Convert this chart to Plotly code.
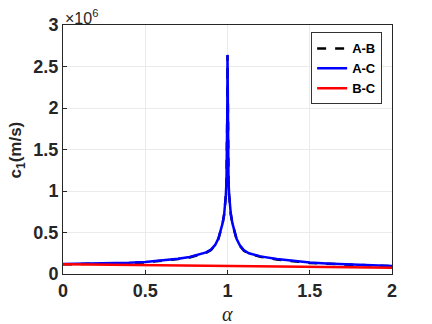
import plotly.graph_objects as go

# alpha grid for the A-B / A-C curves (dense near the resonance at alpha = 1)
alpha = [0, 0.1, 0.2, 0.3, 0.4, 0.5, 0.61, 0.7, 0.77, 0.82, 0.87, 0.9, 0.925,
         0.945, 0.959, 0.97, 0.98, 0.985, 0.99, 0.994, 0.996, 0.998, 0.999, 1.0,
         1.001, 1.002, 1.004, 1.006, 1.01, 1.015, 1.02, 1.03, 1.041, 1.055,
         1.075, 1.1, 1.13, 1.2, 1.3, 1.4, 1.5, 1.6, 1.7, 1.8, 1.9, 2.0]

# values in units of 1e6 m/s
c_ac = [0.120, 0.122, 0.125, 0.130, 0.135, 0.145, 0.165, 0.185, 0.205, 0.228,
        0.260, 0.295, 0.350, 0.430, 0.520, 0.610, 0.725, 0.820, 0.950, 1.130,
        1.350, 1.700, 2.000, 2.640,
        2.000, 1.700, 1.350, 1.130, 0.950, 0.820, 0.725, 0.610, 0.515, 0.425,
        0.345, 0.285, 0.250, 0.212, 0.180, 0.155, 0.138, 0.128, 0.120, 0.112,
        0.104, 0.096]
c_ab = [0.117, 0.119, 0.121, 0.126, 0.131, 0.140, 0.160, 0.180, 0.200, 0.223,
        0.255, 0.290, 0.345, 0.425, 0.515, 0.605, 0.720, 0.815, 0.945, 1.125,
        1.345, 1.695, 1.995, 2.635,
        1.995, 1.695, 1.345, 1.125, 0.945, 0.815, 0.720, 0.605, 0.510, 0.420,
        0.340, 0.280, 0.245, 0.207, 0.175, 0.151, 0.134, 0.124, 0.116, 0.108,
        0.101, 0.094]

alpha_bc = [0, 0.25, 0.5, 0.75, 1.0, 1.25, 1.5, 1.75, 2.0]
c_bc = [0.118, 0.114, 0.110, 0.105, 0.100, 0.095, 0.089, 0.082, 0.076]

scale = 1e6
font = "Liberation Sans, Arial, sans-serif"
dark = "#262626"

fig = go.Figure()
fig.add_trace(go.Scatter(x=alpha, y=[v * scale for v in c_ab], mode="lines", name="A-B",
                         line=dict(color="black", width=2.5, dash="dash")))
fig.add_trace(go.Scatter(x=alpha, y=[v * scale for v in c_ac], mode="lines", name="A-C",
                         line=dict(color="#0000ff", width=2.5)))
fig.add_trace(go.Scatter(x=alpha_bc, y=[v * scale for v in c_bc], mode="lines", name="B-C",
                         line=dict(color="#ff0000", width=2.5)))

tick_font = dict(family=font, size=18, color=dark, weight="bold")
fig.update_xaxes(range=[0, 2], tickvals=[0, 0.5, 1, 1.5, 2], ticktext=["0", "0.5", "1", "1.5", "2"],
                 showgrid=True, gridcolor="#ebebeb", gridwidth=1, zeroline=False,
                 showline=True, linecolor=dark, linewidth=1, mirror=True,
                 ticks="inside", ticklen=4, tickcolor=dark, tickfont=tick_font)
fig.update_yaxes(range=[0, 3e6], tickvals=[0, 0.5e6, 1e6, 1.5e6, 2e6, 2.5e6, 3e6],
                 ticktext=["0", "0.5", "1", "1.5", "2", "2.5", "3"],
                 showgrid=True, gridcolor="#ebebeb", gridwidth=1, zeroline=False,
                 showline=True, linecolor=dark, linewidth=1, mirror=True,
                 ticks="inside", ticklen=4, tickcolor=dark, tickfont=tick_font)

fig.update_layout(
    width=432, height=324,
    margin=dict(l=63, r=40, t=25, b=50),
    plot_bgcolor="white", paper_bgcolor="white",
    font=dict(family=font, color=dark),
    legend=dict(x=0.97, y=0.97, xanchor="right", yanchor="top",
                bgcolor="white", bordercolor="#333333", borderwidth=1,
                font=dict(family=font, size=13, color="black", weight="bold"),
                itemwidth=30, tracegroupgap=0),
    annotations=[
        dict(text="×10<sup>6</sup>", x=0, y=1, xref="paper", yref="paper",
             xanchor="left", yanchor="bottom", showarrow=False, yshift=-4,
             font=dict(family=font, size=16, color=dark)),
        dict(text="<i>α</i>", x=0.5, y=-0.16, xref="paper", yref="paper",
             xanchor="center", yanchor="middle", showarrow=False,
             font=dict(family="Liberation Serif, serif", size=20, color=dark)),
        dict(text="<b>c<sub>1</sub>(m/s)</b>", x=-0.14, y=0.5, xref="paper", yref="paper",
             xanchor="center", yanchor="middle", showarrow=False, textangle=-90,
             font=dict(family=font, size=17, color=dark)),
    ],
)

fig.write_html("out.html", config={"displayModeBar": False},
               post_script="document.body.style.margin='0';")
